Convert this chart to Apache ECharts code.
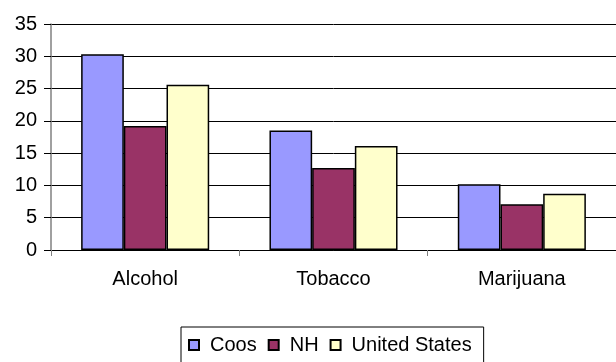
<!DOCTYPE html>
<html>
<head>
<meta charset="utf-8">
<script src="https://cdn.jsdelivr.net/npm/echarts@6/dist/echarts.min.js"></script>
<style>
  html, body { margin: 0; padding: 0; background: #fff; }
  #chart { width: 616px; height: 362px; }
</style>
</head>
<body>
<div id="chart"></div>
<script>
// Substance use rates by area
const categories = ['Alcohol', 'Tobacco', 'Marijuana'];
const coos = [30.3, 18.5, 10.2];
const nh = [19.2, 12.7, 7.1];
const unitedStates = [25.6, 16.1, 8.7];
const yTicks = [0, 5, 10, 15, 20, 25, 30, 35];

const FONT = 'Liberation Sans, Arial, sans-serif';

function barSeries(name, data, color) {
  return {
    name: name,
    type: 'bar',
    data: data,
    barGap: '0%',
    barCategoryGap: '32%',
    itemStyle: { color: color, borderColor: '#000', borderWidth: 1.5 },
    emphasis: { disabled: true }
  };
}

const chart = echarts.init(document.getElementById('chart'), null, { renderer: 'canvas' });
chart.setOption({
  animation: false,
  backgroundColor: '#fff',
  grid: { left: 51, top: 24, width: 567, height: 226, containLabel: false },
  xAxis: {
    type: 'category',
    data: categories,
    axisLine: { lineStyle: { color: '#000', width: 1 } },
    axisTick: { show: true, length: 6, lineStyle: { color: '#808080' } },
    axisLabel: { color: '#000', fontFamily: FONT, fontSize: 20, margin: 19 }
  },
  yAxis: {
    type: 'value',
    min: yTicks[0],
    max: yTicks[yTicks.length - 1],
    interval: 5,
    axisLine: { show: true, lineStyle: { color: '#808080', width: 1.5 } },
    axisTick: { show: true, length: 7, lineStyle: { color: '#000' } },
    splitLine: { show: true, lineStyle: { color: '#000', width: 1 } },
    axisLabel: { color: '#000', fontFamily: FONT, fontSize: 20, margin: 14 }
  },
  legend: {
    left: 181,
    top: 327,
    orient: 'horizontal',
    padding: [8, 12, 20, 7],
    borderColor: '#000',
    borderWidth: 1,
    itemWidth: 10,
    itemHeight: 10,
    itemGap: 11,
    icon: 'rect',
    textStyle: { color: '#000', fontFamily: FONT, fontSize: 20, padding: [0, 0, 0, 6] },
    data: ['Coos', 'NH', 'United States']
  },
  series: [
    barSeries('Coos', coos, '#9999FF'),
    barSeries('NH', nh, '#993366'),
    barSeries('United States', unitedStates, '#FFFFCC')
  ]
});
</script>
</body>
</html>
